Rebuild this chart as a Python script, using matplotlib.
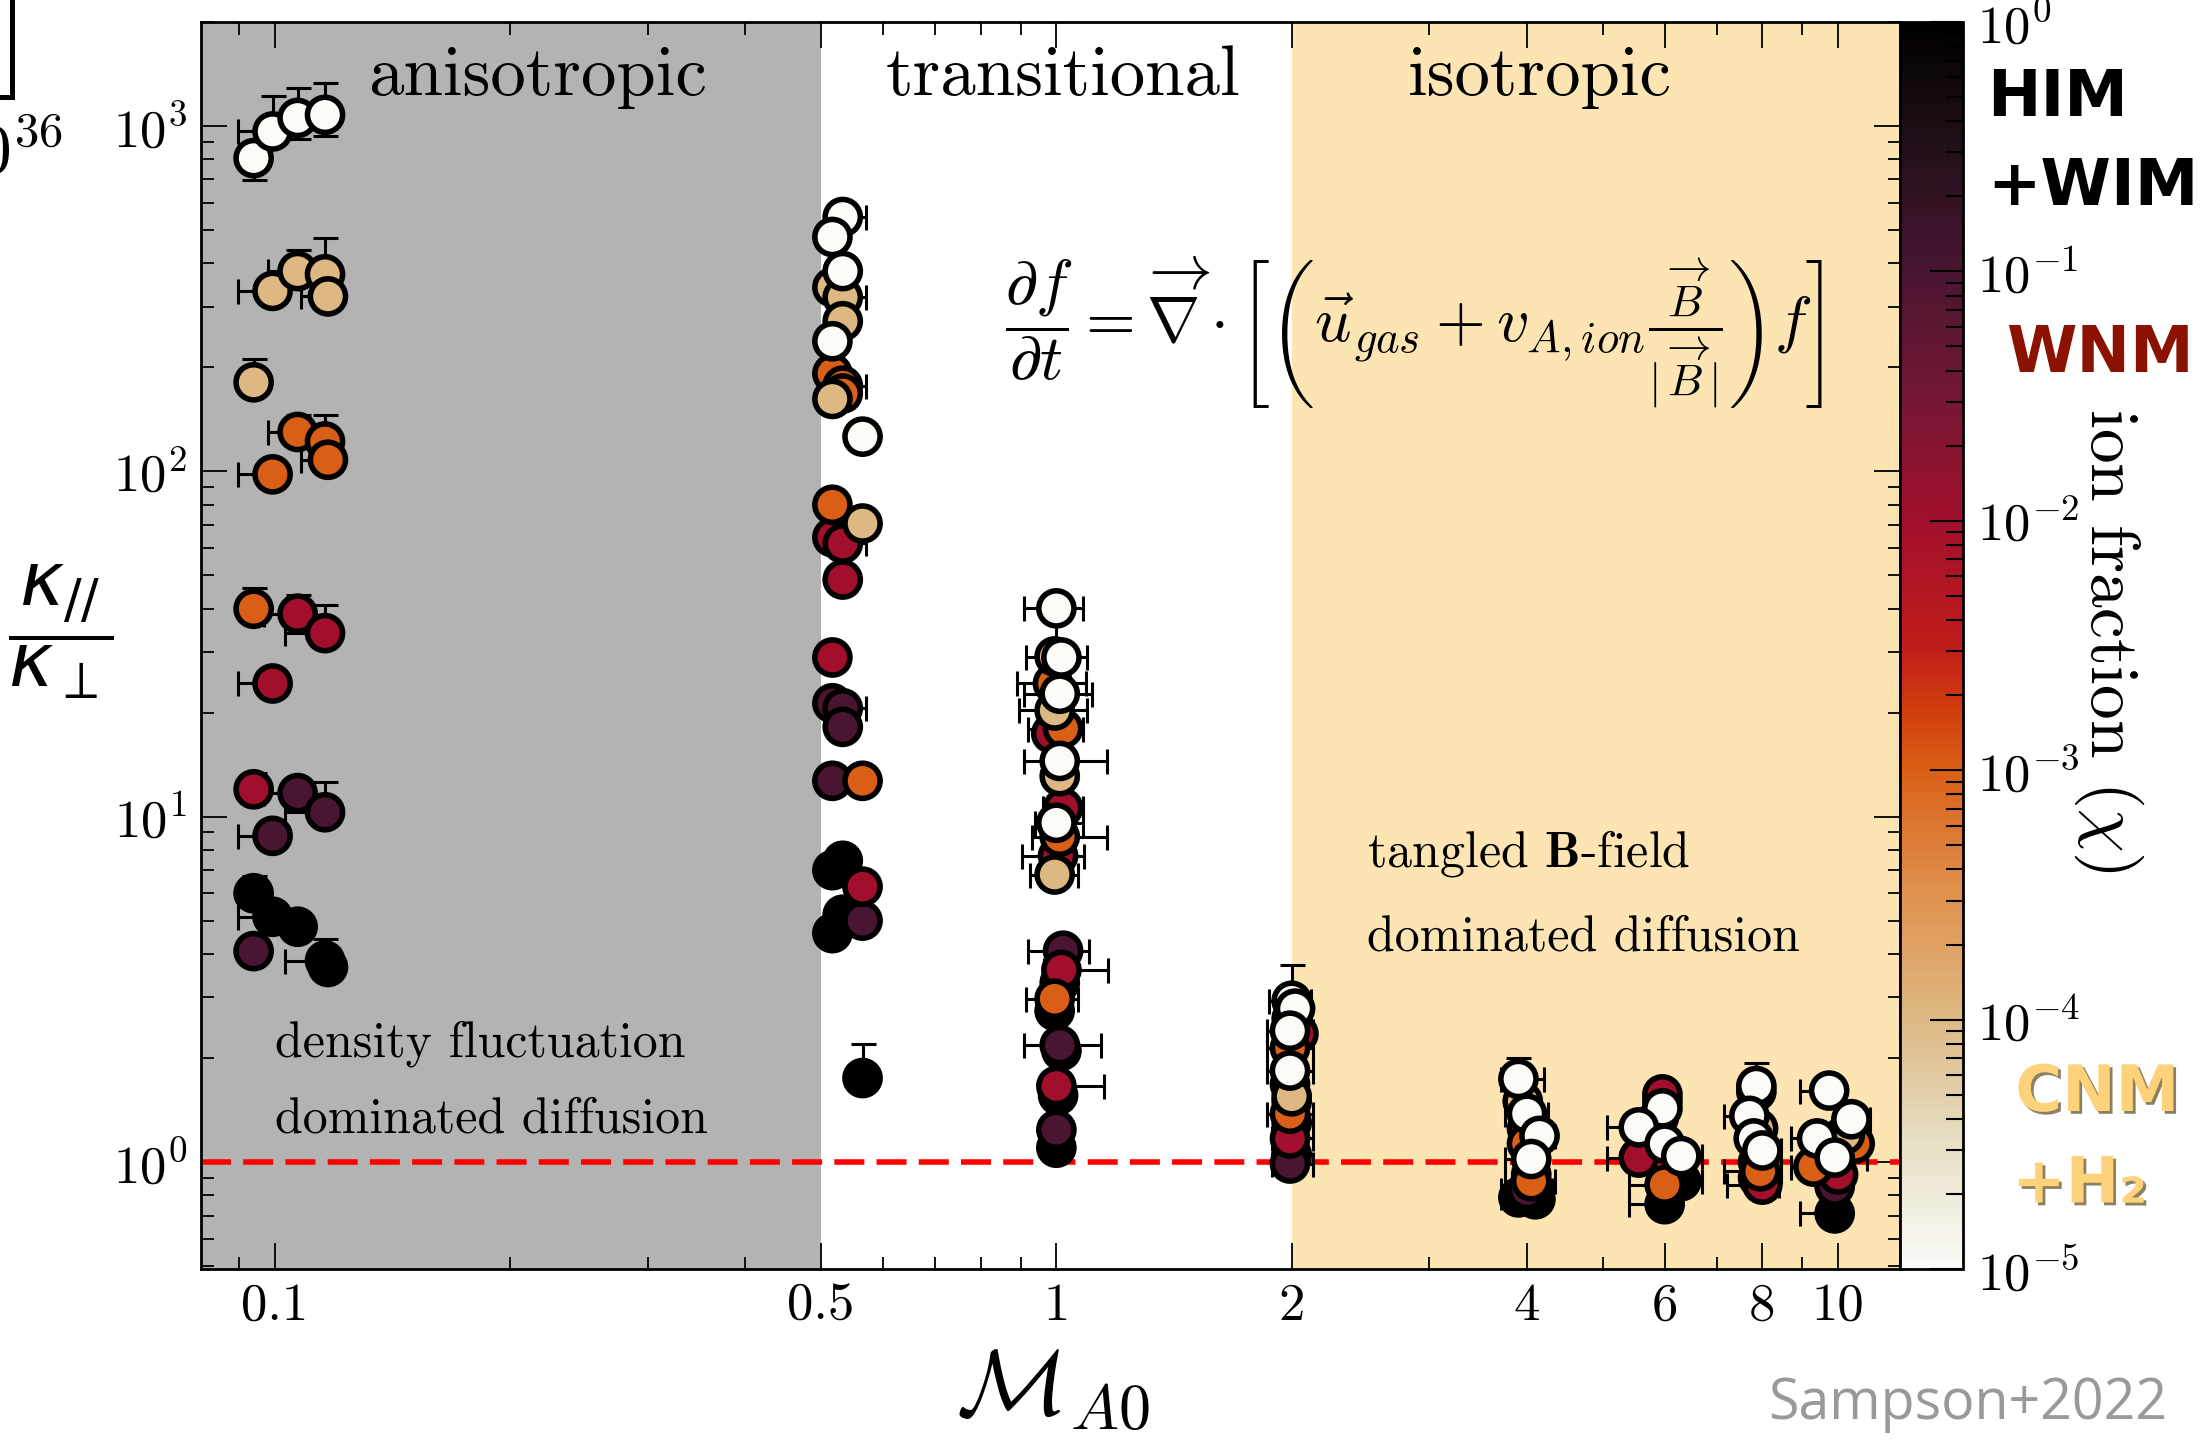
import numpy as np
import matplotlib.pyplot as plt
import matplotlib.patheffects as pe
from matplotlib.colors import LinearSegmentedColormap, LogNorm
from matplotlib.cm import ScalarMappable
from matplotlib.lines import Line2D
from matplotlib.ticker import FixedLocator, FixedFormatter, LogLocator, NullFormatter

plt.rcParams['font.family'] = 'cmr10'
plt.rcParams['mathtext.fontset'] = 'cm'
plt.rcParams['axes.formatter.use_mathtext'] = True

# ion fraction levels (marker colour)
W, T, O, C, P, K = 1e-5, 1e-4, 1e-3, 1e-2, 1e-1, 1.0

# each row: M_A, kappa_par/kappa_perp, ion fraction, M_A err (lo, hi), ratio err (lo, hi)
runs_01 = [
    (0.094, 807, W, 0, 0, 110, 0), (0.0994, 964, W, 0.0096, 0, 0, 258),
    (0.107, 1055, W, 0, 0, 139, 229), (0.116, 1077, W, 0, 0, 142, 253),
    (0.094, 181, T, 0, 0, 0, 30), (0.0994, 333, T, 0.0096, 0, 0, 0),
    (0.107, 380, T, 0.009, 0, 0, 57), (0.116, 372, T, 0, 0, 0, 101),
    (0.117, 321, T, 0.009, 0, 0, 0),
    (0.094, 40, O, 0, 0, 0, 6), (0.0994, 98, O, 0.0096, 0, 0, 0),
    (0.107, 130, O, 0.009, 0, 0, 16), (0.116, 122, O, 0, 0, 0, 24),
    (0.117, 108, O, 0.009, 0, 0, 0),
    (0.094, 12, C, 0, 0, 0, 1.4), (0.0994, 24.3, C, 0.0096, 0, 0, 0),
    (0.107, 38.7, C, 0.01, 0, 0, 5), (0.116, 34, C, 0.013, 0, 0, 7),
    (0.094, 4.08, P, 0, 0, 0, 0), (0.0994, 8.8, P, 0.0096, 0, 0, 0),
    (0.107, 11.7, P, 0.01, 0, 0, 0), (0.116, 10.3, P, 0.013, 0, 0, 2.3),
    (0.094, 6.0, K, 0, 0, 0, 0.75), (0.0994, 5.13, K, 0.0096, 0, 0, 0),
    (0.107, 4.8, K, 0, 0, 0, 0), (0.116, 3.83, K, 0.013, 0, 0, 0.6),
    (0.117, 3.67, K, 0, 0, 0, 0),
]

runs_05 = [
    (0.533, 545, W, 0, 0.038, 0, 0), (0.517, 477, W, 0, 0, 0, 0),
    (0.533, 380, W, 0, 0, 0, 0), (0.517, 238, W, 0, 0, 0, 0),
    (0.565, 126, W, 0, 0, 0, 0),
    (0.517, 341, T, 0, 0, 0, 0), (0.533, 319, T, 0, 0.038, 0, 0),
    (0.533, 272, T, 0, 0, 0, 0), (0.517, 162, T, 0, 0, 0, 0),
    (0.565, 70.6, T, 0, 0, 0, 0),
    (0.517, 192, O, 0, 0, 0, 0), (0.533, 177, O, 0, 0.038, 0, 0),
    (0.533, 168, O, 0, 0, 0, 0), (0.517, 80, O, 0, 0, 0, 0),
    (0.565, 12.7, O, 0, 0, 0, 0),
    (0.517, 64.4, C, 0, 0, 0, 0), (0.533, 61.8, C, 0, 0.038, 0, 0),
    (0.533, 48.6, C, 0, 0, 0, 0), (0.517, 28.9, C, 0, 0, 0, 0),
    (0.565, 6.27, C, 0, 0, 0, 0),
    (0.517, 21.3, P, 0, 0, 0, 0), (0.533, 20.6, P, 0, 0.038, 0, 0),
    (0.533, 18.2, P, 0, 0, 0, 0), (0.517, 12.7, P, 0, 0, 0, 0),
    (0.565, 5.0, P, 0, 0, 0, 0),
    (0.533, 7.45, K, 0, 0, 0, 0), (0.517, 7.0, K, 0, 0, 0, 0),
    (0.533, 5.2, K, 0, 0, 0, 0.35), (0.517, 4.6, K, 0, 0, 0, 0),
    (0.565, 1.75, K, 0, 0, 0, 0.45),
]

runs_1 = [
    (1.0, 40.1, W, 0.09, 0.08, 10, 0), (1.015, 28.9, W, 0.1, 0.08, 0, 0),
    (1.01, 22.7, W, 0.1, 0.1, 0, 0), (1.01, 14.5, W, 0.1, 0.15, 0, 0),
    (1.0, 9.6, W, 0.06, 0.08, 0, 0),
    (0.995, 29.1, T, 0, 0, 0, 0), (0.995, 20.3, T, 0.1, 0.1, 0, 0),
    (1.01, 13.1, T, 0, 0, 0, 0), (0.995, 6.8, T, 0.07, 0.07, 0, 0),
    (0.99, 24.3, O, 0.1, 0.1, 0, 0), (1.02, 18, O, 0.1, 0.06, 0, 0),
    (1.01, 8.75, O, 0.08, 0.15, 0, 0), (0.995, 2.97, O, 0.08, 0.07, 0, 0),
    (0.985, 17.4, C, 0, 0, 0, 0), (1.02, 10.6, C, 0.06, 0.06, 0, 0),
    (1.005, 7.7, C, 0.1, 0.08, 0, 0), (1.015, 3.6, C, 0.05, 0.15, 0, 0),
    (1.0, 1.66, C, 0.03, 0.15, 0, 0),
    (1.02, 4.09, P, 0.1, 0.08, 0, 0), (1.01, 2.18, P, 0.1, 0.13, 0, 0),
    (1.0, 1.24, P, 0.03, 0, 0, 0),
    (1.01, 3.3, K, 0, 0, 0, 0), (0.995, 2.74, K, 0, 0, 0, 0),
    (1.015, 2.1, K, 0, 0, 0, 0), (1.005, 1.56, K, 0, 0, 0, 0),
    (1.0, 1.1, K, 0.03, 0, 0, 0),
]

runs_2 = [
    (2.0, 2.93, W, 0.13, 0.12, 0, 0.8), (2.02, 2.78, W, 0, 0, 0, 0),
    (1.99, 2.4, W, 0.13, 0.14, 0, 0), (1.99, 1.84, W, 0.13, 0.14, 0, 0),
    (2.0, 2.6, T, 0, 0, 0, 0), (2.0, 1.55, T, 0, 0, 0, 0),
    (1.99, 2.14, O, 0.13, 0.14, 0, 0), (1.99, 1.38, O, 0.13, 0.14, 0, 0),
    (2.04, 2.35, C, 0, 0, 0, 0), (1.99, 1.68, C, 0, 0, 0, 0),
    (1.99, 1.17, C, 0.1, 0.14, 0, 0),
    (1.99, 0.99, P, 0.1, 0.14, 0, 0), (2.0, 1.5, P, 0, 0, 0, 0),
    (2.0, 1.05, K, 0, 0, 0, 0), (2.0, 1.3, K, 0, 0, 0, 0),
]

runs_4 = [
    (3.9, 1.74, W, 0.2, 0.3, 0, 0.26), (4.0, 1.38, W, 0.25, 0.25, 0, 0),
    (4.15, 1.19, W, 0.3, 0.2, 0, 0), (4.05, 1.02, W, 0.3, 0.2, 0, 0),
    (3.95, 1.5, T, 0, 0, 0, 0),
    (4.0, 1.13, O, 0, 0, 0, 0), (4.05, 0.88, O, 0.3, 0.3, 0, 0),
    (4.0, 1.25, C, 0, 0, 0, 0), (4.05, 0.92, C, 0, 0, 0, 0),
    (4.0, 0.83, P, 0.3, 0.3, 0, 0),
    (3.9, 0.79, K, 0.2, 0.3, 0, 0), (4.1, 0.78, K, 0, 0, 0, 0),
    (4.0, 0.8, K, 0, 0, 0, 0),
]

runs_6 = [
    (5.96, 1.43, W, 0, 0, 0, 0), (5.56, 1.26, W, 0.5, 0, 0, 0),
    (6.0, 1.13, W, 0, 0, 0, 0), (6.3, 1.04, W, 0, 0.4, 0, 0),
    (5.9, 1.35, T, 0, 0, 0, 0),
    (6.0, 0.86, O, 0.6, 0.4, 0, 0),
    (5.96, 1.57, C, 0, 0, 0, 0), (5.56, 1.03, C, 0.5, 0, 0, 0),
    (5.96, 1.5, P, 0, 0, 0, 0),
    (6.0, 0.755, K, 0.6, 0, 0, 0), (6.3, 0.88, K, 0, 0.4, 0, 0),
]

runs_8 = [
    (7.86, 1.66, W, 0, 0, 0, 0.28), (7.7, 1.36, W, 0.55, 0, 0, 0),
    (7.8, 1.17, W, 0, 0, 0, 0), (8.0, 1.08, W, 0, 0.45, 0, 0),
    (7.9, 1.25, T, 0, 0, 0, 0),
    (7.95, 0.94, O, 0.8, 0.5, 0, 0), (7.86, 1.6, O, 0, 0, 0, 0),
    (8.0, 0.86, C, 0.8, 0.4, 0, 0),
    (7.9, 1.0, P, 0, 0, 0, 0),
    (7.9, 0.9, K, 0, 0, 0, 0),
]

runs_10 = [
    (9.74, 1.61, W, 0.8, 0, 0, 0), (10.4, 1.33, W, 0, 0.6, 0, 0),
    (9.4, 1.17, W, 0.7, 0, 0, 0), (9.9, 1.03, W, 0, 1.0, 0, 0),
    (10.2, 1.2, T, 0, 0, 0, 0),
    (10.5, 1.13, O, 0, 0, 0, 0), (9.3, 0.97, O, 0.6, 0, 0, 0),
    (10.0, 0.92, C, 0, 0, 0, 0),
    (9.9, 0.85, P, 0, 0, 0, 0),
    (9.9, 0.71, K, 0.95, 0, 0, 0),
]

xticks = [0.1, 0.5, 1, 2, 4, 6, 8, 10]
xtick_labels = ['0.1', '0.5', '1', '2', '4', '6', '8', '10']

# colour map for ion fraction (log10 chi from -5 to 0)
cmap = LinearSegmentedColormap.from_list('ionfrac', [
    (0.0, '#fbfbf8'), (0.1, '#e6dfc4'), (0.2, '#ddb882'), (0.3, '#e0924f'),
    (0.4, '#d95f17'), (0.45, '#d03c0c'), (0.5, '#c01d1a'), (0.6, '#a20f2c'),
    (0.7, '#741735'), (0.8, '#4a1530'), (0.9, '#22101a'), (1.0, '#000000')])
norm = LogNorm(1e-5, 1)

fig = plt.figure(figsize=(22.03, 14.41), dpi=100)
ax = fig.add_axes([201/2203, 1 - 1269/1441, 1699/2203, 1247/1441])
ax.set_xscale('log')
ax.set_yscale('log')
ax.set_xlim(0.0805, 12)
ax.set_ylim(0.49, 2000)

# regimes
ax.axvspan(0.0805, 0.5, color='#b3b3b3', lw=0, zorder=0)
ax.axvspan(2, 12, color='#fde4b3', lw=0, zorder=0)
ax.axhline(1, color='red', lw=4, dashes=(5.4, 2.2), zorder=2)

for runs in [runs_01, runs_05, runs_1, runs_2, runs_4, runs_6, runs_8, runs_10]:
    r = np.array(runs, dtype=float)
    r = r[np.argsort(-r[:, 2], kind='stable')]  # light colours on top
    ax.errorbar(r[:, 0], r[:, 1], xerr=[r[:, 3], r[:, 4]], yerr=[r[:, 5], r[:, 6]],
                fmt='none', ecolor='k', elinewidth=2.2, capsize=9, capthick=2.2, zorder=3)
    ax.scatter(r[:, 0], r[:, 1], c=r[:, 2], cmap=cmap, norm=norm, s=640,
               edgecolors='k', linewidths=4, zorder=4)

ax.xaxis.set_major_locator(FixedLocator(xticks))
ax.xaxis.set_major_formatter(FixedFormatter(xtick_labels))
ax.xaxis.set_minor_locator(LogLocator(base=10, subs=np.arange(1, 10), numticks=30))
ax.xaxis.set_minor_formatter(NullFormatter())
ax.yaxis.set_major_locator(LogLocator(base=10, numticks=10))
ax.yaxis.set_minor_locator(LogLocator(base=10, subs=np.arange(2, 10), numticks=30))
ax.yaxis.set_minor_formatter(NullFormatter())
ax.tick_params(which='both', direction='in', top=True, right=True)
ax.tick_params(which='major', length=19, width=1.3, labelsize=38, pad=10)
ax.tick_params(which='minor', length=9, width=1.3)
for s in ax.spines.values():
    s.set_linewidth(2)

# region texts
ax.text(0.217, 1387, 'anisotropic', fontsize=51, ha='center', va='center')
ax.text(1.02, 1387, 'transitional', fontsize=51, ha='center', va='center')
ax.text(4.16, 1387, 'isotropic', fontsize=51, ha='center', va='center')
ax.text(0.1, 2.2, 'density fluctuation', fontsize=36, ha='left', va='center')
ax.text(0.1, 1.33, 'dominated diffusion', fontsize=36, ha='left', va='center')
ax.text(2.5, 7.8, r'tangled $\mathbf{B}$-field', fontsize=36, ha='left', va='center')
ax.text(2.5, 4.46, 'dominated diffusion', fontsize=36, ha='left', va='center')
ax.text(2.87, 251, r'$\dfrac{\partial f}{\partial t} = \overrightarrow{\nabla}\cdot\left[\left(\vec{u}_{gas}'
        r' + v_{A,ion}\frac{\overrightarrow{B}}{|\,\overrightarrow{B}\,|}\right) f\right]$',
        fontsize=46, ha='center', va='center')

# axis labels
fig.text(0.478, 0.035, r'$\mathcal{M}_{A0}$', fontsize=66, ha='center', va='center')
fig.text(0.0277, 0.562, r'$\dfrac{\kappa_{//}}{\kappa_{\perp}}$', fontsize=54,
         ha='center', va='center', math_fontfamily='dejavusans')

# colour bar
cax = fig.add_axes([1900/2203, 1 - 1269/1441, 63/2203, 1247/1441])
cb = fig.colorbar(ScalarMappable(norm=norm, cmap=cmap), cax=cax)
cb.outline.set_linewidth(2)
cax.tick_params(which='major', direction='in', length=24, width=1.5, labelsize=38, pad=10)
cax.tick_params(which='minor', direction='in', length=12, width=1.5)
fig.text(0.957, 0.556, r'ion fraction ($\chi$)', fontsize=50, rotation=270,
         ha='center', va='center')

bold = dict(fontsize=46, fontweight='bold', family='DejaVu Sans', ha='center', va='center')
fig.text(0.934, 0.932, 'HIM', color='k', **bold)
fig.text(0.950, 0.870, '+WIM', color='k', **bold)
fig.text(0.953, 0.754, 'WNM', color='#8b1200', **bold)
shadow = [pe.withSimplePatchShadow(offset=(2, -2), shadow_rgbFace='#5a4a20', alpha=0.7)]
fig.text(0.952, 0.2415, 'CNM', color='#fdd27a', path_effects=shadow, **bold)
fig.text(0.944, 0.178, '+H\u2082', color='#fdd27a', path_effects=shadow, **bold)

fig.text(0.893, 0.025, 'Sampson+2022', fontsize=40, color='#999999',
         family='Open Sans', ha='center', va='center')

# cropped remains of a neighbouring panel
fig.add_artist(Line2D([12/2203, 12/2203], [1, 1 - 97/1441], color='k', lw=3.6))
fig.add_artist(Line2D([0, 12/2203], [1 - 97/1441, 1 - 97/1441], color='k', lw=3.6))
fig.text(63/2203, 1 - 173/1441, r'$10^{36}$', fontsize=50, ha='right', va='baseline')

fig.savefig('out.png', dpi=100)
